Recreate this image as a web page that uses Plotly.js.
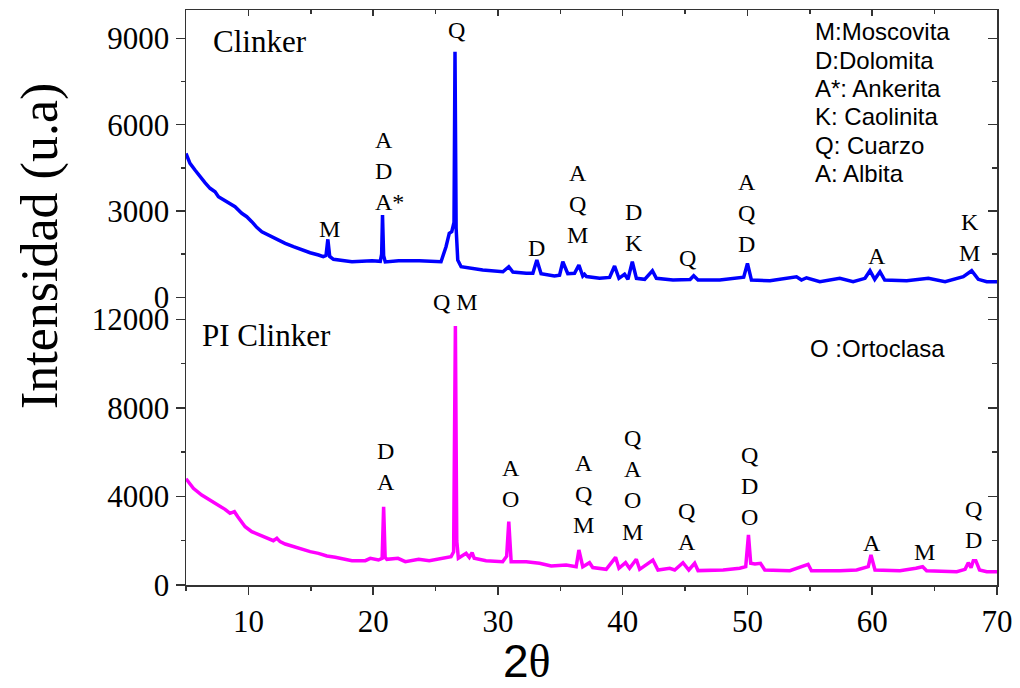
<!DOCTYPE html>
<html>
<head>
<meta charset="utf-8">
<script src="https://cdn.plot.ly/plotly-3.0.1.min.js"></script>
<style>
  html, body { margin: 0; padding: 0; background: #fff; }
  #chart { width: 1020px; height: 688px; }
</style>
</head>
<body>
<div id="chart"></div>
<script>
// Clinker diffractogram (upper panel)
const clinkerTheta = [5, 5.32, 5.72, 6.12, 6.52, 6.93, 7.33, 7.6, 8.0, 8.4, 8.93, 9.47, 9.87, 10.27, 10.67, 11.08,
  11.6, 12.28, 12.95, 13.61, 14.28, 14.95, 15.62, 16.0, 16.22, 16.37, 16.52, 16.82,
  18.3, 19.9, 20.57, 20.68, 20.75, 20.84, 20.97, 22.04, 23.7, 25.44, 25.84, 26.1, 26.3, 26.48, 26.56, 26.65, 26.78,
  27.05, 28.78, 30.4, 30.87, 31.2, 32.27, 32.8, 33.12, 33.46, 34.53, 34.94, 35.2, 35.6, 36.14, 36.49, 36.8, 36.94,
  37.1, 38.15, 38.95, 39.35, 39.7, 40.15, 40.42, 40.77, 41.1, 41.76, 42.38, 42.7, 44.03, 45.4, 45.69, 46.04, 47.78,
  49.25, 49.7, 50.0, 50.32, 51.8, 53.93, 54.33, 54.73, 55.8, 57.4, 58.47, 59.42, 59.82, 60.2, 60.62, 61.0, 62.76,
  64.5, 65.84, 67.3, 67.97, 68.5, 69.18, 70];
const clinkerCounts = [5000, 4658, 4425, 4192, 3984, 3789, 3671, 3497, 3382, 3267, 3150, 2920, 2802, 2628, 2433, 2280,
  2166, 2016, 1877, 1759, 1644, 1550, 1470, 1411, 1450, 2016, 1420, 1321,
  1237, 1272, 1250, 1500, 2861, 1450, 1230, 1272, 1272, 1237, 1759, 2225, 2280, 2600, 8537, 2400, 1297,
  1064, 949, 890, 1064, 880, 834, 834, 1297, 820, 740, 770, 1237, 820, 834, 1123, 740, 800,
  720, 660, 690, 1088, 660, 800, 626, 1237, 660, 626, 925, 660, 600, 620, 750, 600, 600,
  660, 700, 1180, 600, 577, 716, 600, 680, 542, 660, 542, 660, 925, 626, 890, 600, 577,
  660, 542, 716, 925, 626, 542, 542];

// PI Clinker diffractogram (lower panel)
const piTheta = [5, 5.59, 6.26, 6.93, 7.6, 8.13, 8.53, 8.88, 9.15, 9.33, 9.74, 10.27, 10.94, 11.6, 12.0, 12.28, 12.54,
  12.95, 13.61, 14.28, 14.95, 15.62, 16.29, 16.96, 17.62, 18.3, 19.37,
  19.77, 20.43, 20.72, 20.84, 20.96, 21.1, 21.99, 22.58, 23.65, 24.5, 25.44, 26.24, 26.45, 26.59, 26.7, 26.83,
  27.45, 27.71, 27.93, 28.1, 29.05, 30.38, 30.7, 30.87, 31.06, 32.27, 33.33, 34.27, 35.47, 36.27, 36.49, 36.8,
  37.34, 37.6, 38.68, 39.43, 39.7, 40.23, 40.55, 41.09, 41.36, 42.42, 42.83, 43.77, 44.17, 44.83, 45.3, 45.77,
  46.04, 48.05, 49.38, 49.86, 50.08, 50.26, 50.6, 51.04, 51.39, 53.4, 54.86, 55.13, 57.4, 58.75, 59.68, 59.9,
  60.22, 62.22, 63.5, 64.04, 64.36, 66.77, 67.44, 67.7, 67.92, 68.1, 68.3, 68.6, 69.18, 70];
const piCounts = [4800, 4365, 4064, 3838, 3612, 3416, 3237, 3310, 3085, 2935, 2634, 2408, 2258, 2107, 2002, 2107, 1957,
  1851, 1731, 1610, 1505, 1430, 1310, 1250, 1160, 1099, 1099,
  1204, 1129, 1200, 3535, 1250, 1160, 1204, 1053, 1160, 1099, 1204, 1278, 1500, 11694, 2000, 1204,
  1430, 1250, 1460, 1204, 1099, 1053, 1300, 2860, 1053, 1053, 980, 858, 903, 826, 1580, 826,
  1008, 790, 708, 1250, 754, 1008, 754, 1160, 708, 1129, 677, 754, 677, 1008, 677, 980,
  650, 677, 754, 826, 2257, 980, 950, 980, 677, 646, 935, 646, 646, 677, 826, 1354,
  677, 646, 754, 826, 646, 600, 708, 1008, 780, 1099, 1099, 677, 600, 600];

// Tick values
const thetaTicks = [10, 20, 30, 40, 50, 60, 70];
const clinkerTicks = [0, 3000, 6000, 9000];
const piTicks = [0, 4000, 8000, 12000];

// Phase keys
const clinkerKey = ['M:Moscovita', 'D:Dolomita', 'A*: Ankerita', 'K: Caolinita', 'Q: Cuarzo', 'A: Albita'];
const piKey = ['O :Ortoclasa'];

// Peak identifications
const clinkerPeaks = [
  {text: 'M', x: 16.5, y: 2385},
  {text: 'A<br>D<br>A*', x: 19.95, y: 4390, left: true},
  {text: 'Q', x: 26.71, y: 9291},
  {text: 'D', x: 33.13, y: 1714},
  {text: 'A<br>Q<br>M', x: 36.34, y: 3243},
  {text: 'D<br>K', x: 40.87, y: 2444},
  {text: 'Q', x: 45.17, y: 1366},
  {text: 'A<br>Q<br>D', x: 49.98, y: 2948},
  {text: 'A', x: 60.42, y: 1436},
  {text: 'K<br>M', x: 67.76, y: 2096}
];
const piPeaks = [
  {text: 'D<br>A', x: 21.03, y: 5341},
  {text: 'A<br>O', x: 31.06, y: 4605},
  {text: 'A<br>Q<br>M', x: 36.86, y: 4109},
  {text: 'Q<br>A<br>O<br>M', x: 40.8, y: 4515},
  {text: 'Q<br>A', x: 45.13, y: 2664},
  {text: 'Q<br>D<br>O', x: 50.16, y: 4492},
  {text: 'A', x: 59.95, y: 1896},
  {text: 'M', x: 64.21, y: 1503},
  {text: 'Q<br>D', x: 68.08, y: 2732}
];

const SERIF = 'Liberation Serif, Times New Roman, serif';
const SANS = 'Liberation Sans, Arial, sans-serif';
const AX = '#333';

const traces = [
  {x: clinkerTheta, y: clinkerCounts, xaxis: 'x2', yaxis: 'y2', type: 'scatter', mode: 'lines',
   line: {color: '#0000ff', width: 3.5}, name: 'Clinker'},
  {x: piTheta, y: piCounts, xaxis: 'x', yaxis: 'y', type: 'scatter', mode: 'lines',
   line: {color: '#ff00ff', width: 3.5}, name: 'PI Clinker'},
  // empty traces so the right-hand frame axes are laid out
  {x: [], y: [], xaxis: 'x2', yaxis: 'y3', type: 'scatter', mode: 'lines', hoverinfo: 'skip'},
  {x: [], y: [], xaxis: 'x', yaxis: 'y4', type: 'scatter', mode: 'lines', hoverinfo: 'skip'}
];

const split = 0.4817;
const clinkerRange = [-372, 9987];
const piRange = [0, 12507];

const tickFont = {family: SERIF, size: 31, color: '#000'};

const baseX = {
  range: [5, 70], showgrid: false, zeroline: false, showline: true, linecolor: AX, linewidth: 1.5,
  tickcolor: AX, tickwidth: 1.5
};
const baseY = {
  showgrid: false, zeroline: false, showline: true, linecolor: AX, linewidth: 1.5,
  tickcolor: AX, tickwidth: 1.5, tickfont: tickFont, tickformat: 'd', exponentformat: 'none'
};

const peakFont = {family: SERIF, size: 24, color: '#000'};
const annotations = [];
clinkerPeaks.forEach(p => annotations.push({
  text: p.text, x: p.x, y: p.y, xref: 'x2', yref: 'y2', showarrow: false,
  xanchor: p.left ? 'left' : 'center', yanchor: 'middle', align: p.left ? 'left' : 'center',
  font: peakFont
}));
piPeaks.forEach(p => annotations.push({
  text: p.text, x: p.x, y: p.y, xref: 'x', yref: 'y', showarrow: false,
  xanchor: 'center', yanchor: 'middle', align: 'center', font: peakFont
}));
// quartz/muscovite label above the strongest PI Clinker reflection sits above its panel
annotations.push({text: 'Q M', x: 26.59, xref: 'x', y: (585 - 302) / 575, yref: 'paper', showarrow: false,
  xanchor: 'center', yanchor: 'middle', font: peakFont});

// sample names
annotations.push({text: 'Clinker', xref: 'paper', yref: 'paper', x: 0.0305, y: (585 - 42) / 575,
  xanchor: 'left', yanchor: 'middle', showarrow: false, font: {family: SERIF, size: 31, color: '#000'}});
annotations.push({text: 'PI Clinker', xref: 'paper', yref: 'paper', x: (200 - 186) / 811, y: (585 - 336) / 575,
  xanchor: 'left', yanchor: 'middle', showarrow: false, font: {family: SERIF, size: 31, color: '#000'}});

// phase keys
const keyFont = {family: SANS, size: 24, color: '#000'};
clinkerKey.forEach((t, i) => annotations.push({
  text: t, xref: 'paper', yref: 'paper', x: (812.7 - 186) / 811, y: (585 - (32 + i * 28.3)) / 575,
  xanchor: 'left', yanchor: 'middle', showarrow: false, font: keyFont
}));
piKey.forEach(t => annotations.push({
  text: t, xref: 'paper', yref: 'paper', x: (807.7 - 186) / 811, y: (585 - 348) / 575,
  xanchor: 'left', yanchor: 'middle', showarrow: false, font: keyFont
}));

// axis titles
annotations.push({text: 'Intensidad (u.a)', xref: 'paper', yref: 'paper', x: (40 - 186) / 811, y: (585 - 246) / 575,
  xanchor: 'center', yanchor: 'middle', textangle: -90, showarrow: false,
  font: {family: SERIF, size: 52, color: '#000'}});
annotations.push({text: '2<span style="font-family:Liberation Serif">θ</span>', xref: 'paper', yref: 'paper',
  x: (526.7 - 186) / 811, y: (585 - 661) / 575,
  xanchor: 'center', yanchor: 'middle', showarrow: false,
  font: {family: SANS, size: 46, color: '#000'}});

const layout = {
  width: 1020, height: 688,
  margin: {l: 186, r: 23, t: 10, b: 103},
  paper_bgcolor: '#fff', plot_bgcolor: '#fff',
  showlegend: false,
  xaxis: Object.assign({}, baseX, {
    domain: [0, 1], anchor: 'y', tickvals: thetaTicks, ticks: 'outside', ticklen: 8,
    tickfont: tickFont, minor: {dtick: 5, tick0: 0, ticks: 'outside', ticklen: 4, tickwidth: 1.5, tickcolor: AX}
  }),
  xaxis2: Object.assign({}, baseX, {
    domain: [0, 1], anchor: 'y2', side: 'top', matches: 'x', showticklabels: false,
    tickvals: thetaTicks, ticks: 'inside', ticklen: 6,
    minor: {dtick: 5, tick0: 0, ticks: 'inside', ticklen: 4, tickwidth: 1.5, tickcolor: AX}
  }),
  yaxis: Object.assign({}, baseY, {
    domain: [0, split], anchor: 'x', range: piRange, tickvals: piTicks, ticks: 'outside', ticklen: 9,
    minor: {dtick: 2000, tick0: 0, ticks: 'outside', ticklen: 4, tickwidth: 1.5, tickcolor: AX}
  }),
  yaxis2: Object.assign({}, baseY, {
    domain: [split, 1], anchor: 'x2', range: clinkerRange, tickvals: clinkerTicks, ticks: 'outside', ticklen: 9,
    minor: {dtick: 1500, tick0: 0, ticks: 'outside', ticklen: 4, tickwidth: 1.5, tickcolor: AX}
  }),
  yaxis3: Object.assign({}, baseY, {
    overlaying: 'y2', anchor: 'x2', side: 'right', range: clinkerRange, tickvals: clinkerTicks,
    ticks: 'inside', ticklen: 9, showticklabels: false,
    minor: {dtick: 1500, tick0: 0, ticks: 'inside', ticklen: 5, tickwidth: 1.5, tickcolor: AX}
  }),
  yaxis4: Object.assign({}, baseY, {
    overlaying: 'y', anchor: 'x', side: 'right', range: piRange, tickvals: piTicks,
    ticks: 'inside', ticklen: 9, showticklabels: false,
    minor: {dtick: 2000, tick0: 0, ticks: 'inside', ticklen: 5, tickwidth: 1.5, tickcolor: AX}
  }),
  annotations: annotations
};

Plotly.newPlot('chart', traces, layout, {staticPlot: true, displayModeBar: false});
</script>
</body>
</html>
